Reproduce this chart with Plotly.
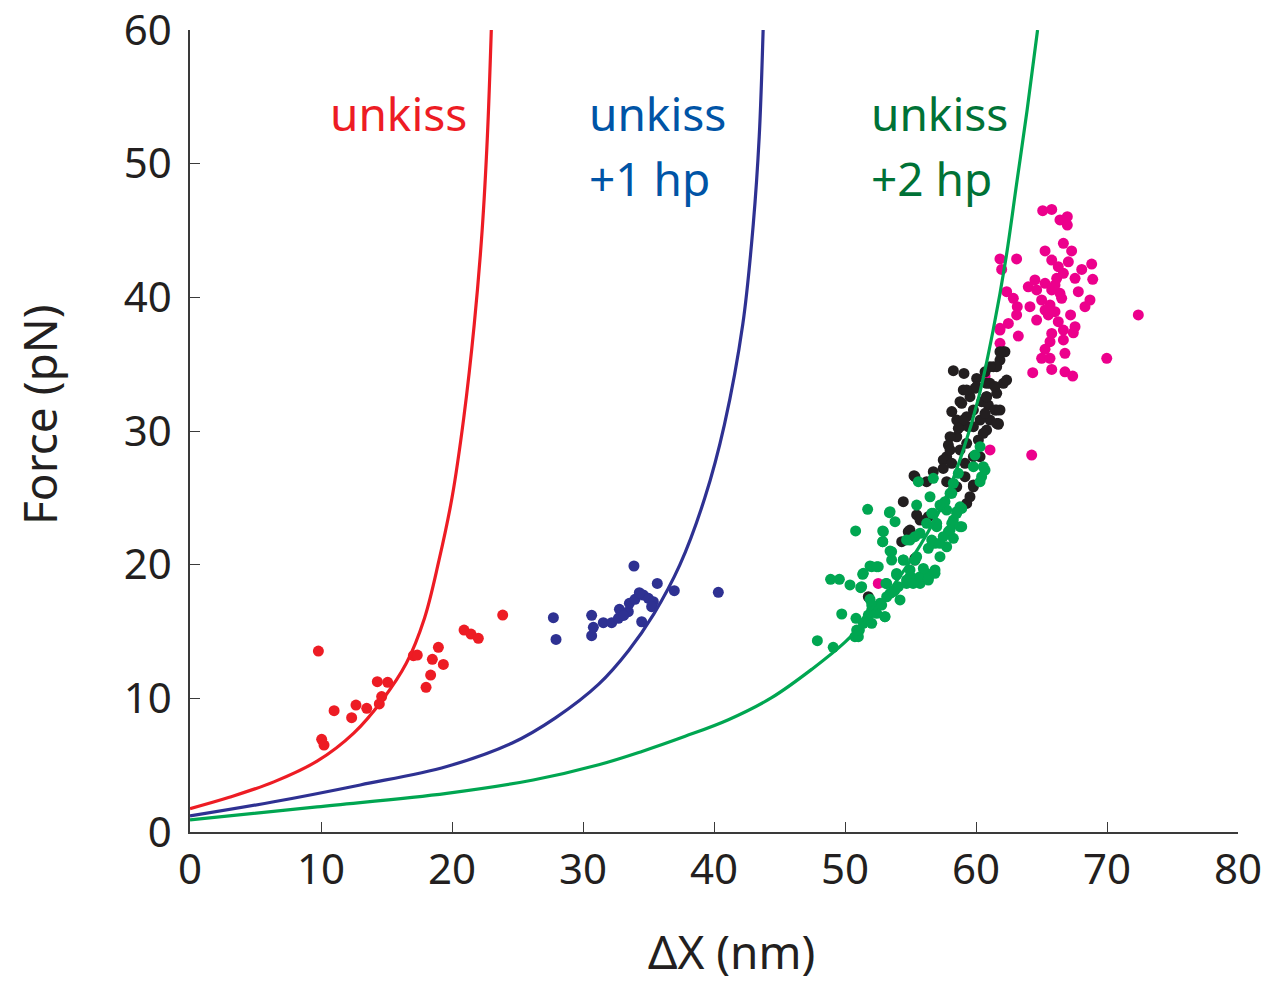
import plotly.graph_objects as go

# ---- curve readings (model curves) ----
red_curve_x = [0, 3.0, 6.4, 9.7, 12.5, 14.7, 16.5, 17.9, 19.0, 20.0, 20.9, 21.7, 22.3, 22.7, 23.0]
red_curve_y = [1.75, 2.6, 3.75, 5.3, 7.4, 9.9, 12.6, 16.0, 20.3, 25.0, 31.0, 38.0, 45.0, 52.0, 60.0]

blue_curve_x = [0, 6.4, 13.0, 19.6, 24.6, 27.9, 31.2, 33.5, 35.4, 37.4, 39.3, 40.8, 42.2, 43.0, 43.45, 43.75]
blue_curve_y = [1.2, 2.26, 3.52, 4.9, 6.66, 8.54, 11.06, 13.6, 16.3, 20.0, 25.0, 30.5, 38.0, 45.5, 52.0, 60.0]

green_curve_x = [0, 9.7, 19.6, 26.2, 31.2, 34.5, 37.8, 41.1, 44.4, 47.5, 50.0, 52.0, 55.0, 57.5, 59.0,
                 60.2, 61.3, 62.3, 63.1, 63.9, 64.7]
green_curve_y = [0.9, 1.88, 2.89, 3.89, 5.03, 6.03, 7.16, 8.4, 10.05, 12.2, 14.2, 16.3, 20.3, 24.6, 28.5,
                 32.5, 37.5, 43.0, 48.5, 54.0, 60.0]

# ---- data points ----
red_x = [9.8, 10.05, 10.23, 11.0, 12.34, 12.67, 13.49, 14.3, 15.09, 14.63, 14.45, 17.05, 17.35,
         18.96, 18.5, 19.34, 18.37, 18.02, 20.92, 21.45, 22.01, 23.87]
red_y = [13.54, 6.93, 6.5, 9.08, 8.55, 9.5, 9.25, 11.25, 11.2, 10.13, 9.58, 13.19, 13.24,
         13.82, 12.92, 12.54, 11.74, 10.82, 15.11, 14.81, 14.49, 16.23]

blue_x = [27.74, 27.94, 33.89, 35.67, 36.97, 40.33, 30.66, 30.66, 30.79, 31.55, 32.19, 32.7, 32.78,
          33.46, 33.54, 33.97, 34.6, 34.99, 35.37, 35.24, 34.48, 34.3, 33.1]
blue_y = [16.03, 14.41, 19.9, 18.6, 18.05, 17.93, 16.21, 14.69, 15.31, 15.66, 15.66, 15.99, 16.66,
          16.48, 17.11, 17.41, 17.73, 17.48, 17.23, 16.86, 15.73, 17.9, 16.2]

green_x = [47.89, 49.1, 48.9, 49.57, 49.75, 50.38, 50.81, 51.73, 51.35, 51.2, 50.84, 50.76, 51.1, 51.65,
           52.04, 52.04, 52.54, 52.88, 52.88, 53.39, 53.82, 53.44, 53.56, 53.13, 52.67, 53.05, 53.94,
           54.2, 54.45, 54.7, 55.34, 55.34, 55.47, 55.6, 55.73, 56.23, 56.36, 56.49, 56.62, 56.74,
           56.87, 57.0, 56.87, 57.25, 57.38, 57.63, 57.76, 57.89, 58.15, 58.02, 58.27, 58.27, 58.53,
           58.65, 58.91, 58.78, 59.8, 59.92, 60.31, 60.43, 60.69, 60.31, 60.56, 51.91, 52.29, 53.44,
           53.82, 54.96, 55.2, 54.7,
           51.02, 50.89, 51.4, 51.78, 52.04, 52.29, 52.8, 53.05, 53.18, 53.69, 54.07, 54.7, 55.2,
           55.73, 56.36, 56.87, 54.96, 55.98, 54.45, 55.47, 54.96, 55.73, 56.36, 56.62, 57.25, 57.5,
           58.02, 58.27, 57.76, 58.78, 58.91, 58.53, 58.15, 57.25, 56.74, 56.23, 57.0, 53.44, 52.93,
           52.88, 53.56, 51.91, 52.42, 51.4, 51.27, 53.18, 53.94, 52.04, 52.42]
green_y = [14.31, 13.82, 18.9, 18.9, 16.31, 18.48, 22.52, 24.14, 19.28, 18.28, 15.99, 14.61, 15.11, 15.86,
           16.61, 19.85, 19.85, 22.52, 21.72, 23.89, 23.22, 21.02, 20.35, 18.6, 17.11, 16.11, 19.34,
           17.36, 20.35, 21.85, 22.09, 20.35, 24.46, 26.21, 18.6, 19.34, 18.85, 25.08, 23.84, 26.46,
           21.6, 22.84, 19.6, 20.6, 24.33, 24.71, 21.34, 22.47, 23.09, 25.34, 26.09, 21.97, 23.96,
           26.83, 22.84, 24.33, 27.33, 28.2, 28.83, 26.58, 27.08, 26.21, 27.33, 17.41, 16.86, 17.86,
           18.1, 19.1, 18.98, 18.6,
           14.61, 15.11, 15.61, 16.23, 16.98, 16.61, 16.98, 16.11, 17.6, 17.98, 18.35, 18.85, 18.6,
           19.1, 18.98, 19.35, 19.6, 19.72, 20.35, 20.6, 21.84, 22.35, 21.22, 21.84, 21.6, 22.09,
           22.59, 23.34, 24.09, 22.84, 24.21, 23.84, 25.34, 24.46, 23.84, 23.09, 23.09, 23.96, 22.47,
           21.72, 20.97, 19.9, 19.85, 19.35, 18.35, 18.6, 19.23, 15.61, 16.36]

black_x = [58.27, 59.08, 58.15, 59.03, 59.54, 59.8, 59.29, 58.78, 58.53, 58.02, 57.89, 57.76, 57.5,
           58.15, 57.76, 56.74, 56.23, 55.27, 54.45, 55.47, 55.73, 54.96, 54.33, 59.29, 59.8, 60.31,
           60.18, 60.81, 61.32, 61.83, 62.21, 61.58, 61.7, 61.58, 61.07, 60.81, 60.43, 59.92, 59.41,
           58.78, 59.16, 58.53, 56.36, 55.34, 51.78, 54.83, 60.05, 60.69, 61.07, 60.94, 60.31, 58.53,
           58.78, 62.09, 61.58, 62.09, 61.45, 61.7, 60.81,
           61.83, 62.34, 61.07, 59.29, 60.05, 60.81, 61.45, 61.83, 61.58, 60.69, 58.91, 59.03, 58.65,
           59.8, 60.56, 59.29, 58.02, 59.16, 59.8, 57.5, 55.34, 59.8, 59.54, 55.34]
black_y = [34.51, 34.31, 31.45, 33.07, 32.57, 31.57, 31.07, 30.32, 29.57, 29.57, 28.95, 28.08, 27.83,
           27.58, 26.21, 26.96, 26.21, 26.66, 24.71, 23.72, 23.34, 22.59, 21.72, 24.58, 25.96, 28.08,
           29.33, 33.57, 34.81, 35.31, 35.93, 32.82, 30.5, 31.57, 30.82, 30.07, 32.19, 33.19, 30.32,
           28.58, 26.58, 25.83, 23.59, 20.35, 17.6, 22.47, 33.93, 34.43, 33.57, 31.94, 30.82, 30.82,
           32.19, 35.93, 34.81, 33.57, 31.57, 30.57, 32.57,
           35.93, 33.81, 34.81, 33.07, 33.32, 32.57, 33.32, 31.57, 30.57, 31.32, 32.07, 30.82, 30.2,
           30.32, 29.83, 29.08, 28.58, 27.58, 28.08, 27.2, 26.58, 25.83, 25.08, 20.47]

pink_x = [65.09, 65.78, 66.41, 66.97, 66.97, 61.83, 63.1, 61.96, 65.27, 66.67, 67.3, 65.78, 67.05,
          68.83, 68.07, 67.56, 68.91, 64.5, 63.99, 65.27, 66.16, 66.67, 64.63, 65.78, 62.34, 62.85,
          63.15, 64.12, 65.01, 66.54, 67.81, 68.7, 68.32, 63.1, 65.27, 65.65, 72.39, 64.63, 65.52,
          66.28, 67.22, 62.47, 61.83, 63.23, 65.78, 66.67, 67.56, 67.43, 65.65, 66.67, 61.83, 65.27,
          65.01, 65.65, 66.79, 69.98, 64.33, 65.78, 66.79, 67.38, 64.25, 61.07, 66.28, 66.03, 66.41,
          66.03, 61.83, 60.69, 52.54]
pink_y = [46.48, 46.58, 45.79, 46.03, 45.41, 42.87, 42.87, 42.09, 43.47, 44.04, 43.47, 42.79, 42.66,
          42.49, 42.09, 41.42, 41.35, 41.3, 40.79, 41.05, 41.42, 41.8, 40.55, 40.55, 40.42, 39.93,
          39.3, 39.3, 39.8, 39.93, 40.42, 39.8, 39.3, 38.68, 39.05, 39.43, 38.68, 38.3, 38.68,
          38.18, 38.68, 38.05, 37.68, 37.1, 37.3, 37.55, 37.8, 37.35, 36.68, 36.81, 36.56, 36.11,
          35.44, 35.44, 35.81, 35.44, 34.36, 34.61, 34.43, 34.11, 28.2, 28.58, 42.29, 40.92, 40.3,
          38.93, 37.55, 34.11, 18.6]

x_ticks = [0, 10, 20, 30, 40, 50, 60, 70, 80]
y_ticks = [0, 10, 20, 30, 40, 50, 60]

RED = "#ed1c24"
BLUE_LINE = "#2e3192"
GREEN = "#00a651"
PINK = "#ec008c"
BLACK = "#231f20"

fig = go.Figure()

def dots(x, y, color):
    fig.add_trace(go.Scatter(x=x, y=y, mode="markers",
                             marker=dict(size=11, color=color, line=dict(width=0)),
                             hoverinfo="skip", showlegend=False))

dots(pink_x, pink_y, PINK)
dots(black_x, black_y, BLACK)
dots(green_x, green_y, GREEN)
dots(red_x, red_y, RED)
dots(blue_x, blue_y, BLUE_LINE)

for cx, cy, col in [(red_curve_x, red_curve_y, RED),
                    (blue_curve_x, blue_curve_y, BLUE_LINE),
                    (green_curve_x, green_curve_y, GREEN)]:
    fig.add_trace(go.Scatter(x=cx, y=cy, mode="lines",
                             line=dict(color=col, width=3.2, shape="spline", smoothing=1.0),
                             hoverinfo="skip", showlegend=False))

FONT = "Noto Sans"
labels = [
    (10.5, 53.8, "unkiss", RED),
    (30.3, 53.8, "unkiss", "#0054a6"),
    (30.3, 48.9, "+1 hp", "#0054a6"),
    (51.8, 53.8, "unkiss", "#007236"),
    (51.8, 48.9, "+2 hp", "#007236"),
]
for lx, ly, txt, col in labels:
    fig.add_annotation(x=lx, y=ly, text=txt, showarrow=False, xanchor="left", yanchor="middle",
                       font=dict(family=FONT, size=46, color=col))

# axis titles
fig.add_annotation(xref="paper", yref="paper", x=-0.144, y=0.52, text="Force (pN)", textangle=-90,
                   showarrow=False, xanchor="center", yanchor="middle",
                   font=dict(family=FONT, size=46, color=BLACK))
fig.add_annotation(xref="paper", yref="paper", x=0.517, y=-0.148, text="ΔX (nm)",
                   showarrow=False, xanchor="center", yanchor="middle",
                   font=dict(family=FONT, size=46, color=BLACK))

axis_common = dict(showline=True, linecolor="#3a3a3a", linewidth=1.5, ticks="inside", ticklen=10,
                   tickwidth=1.2, tickcolor="#3a3a3a", showgrid=False, zeroline=False,
                   tickfont=dict(family=FONT, size=42, color=BLACK), mirror=False, automargin=False,
                   ticklabeloverflow="allow")

fig.update_xaxes(range=[0, 80], tickvals=x_ticks, ticktext=[str(v) for v in x_ticks], **axis_common)
fig.update_yaxes(range=[0, 60], tickvals=y_ticks, ticktext=[str(v) for v in y_ticks],
                 ticklabelstandoff=8, **axis_common)

fig.update_layout(width=1286, height=981, margin=dict(l=190, r=48, t=30, b=149),
                  plot_bgcolor="white", paper_bgcolor="white", showlegend=False)

# remove the default page margin so the figure fills the window exactly; hide the modebar
fig.write_html("out.html", config={"displayModeBar": False},
               post_script="document.body.style.margin='0';document.body.style.overflow='hidden';")
